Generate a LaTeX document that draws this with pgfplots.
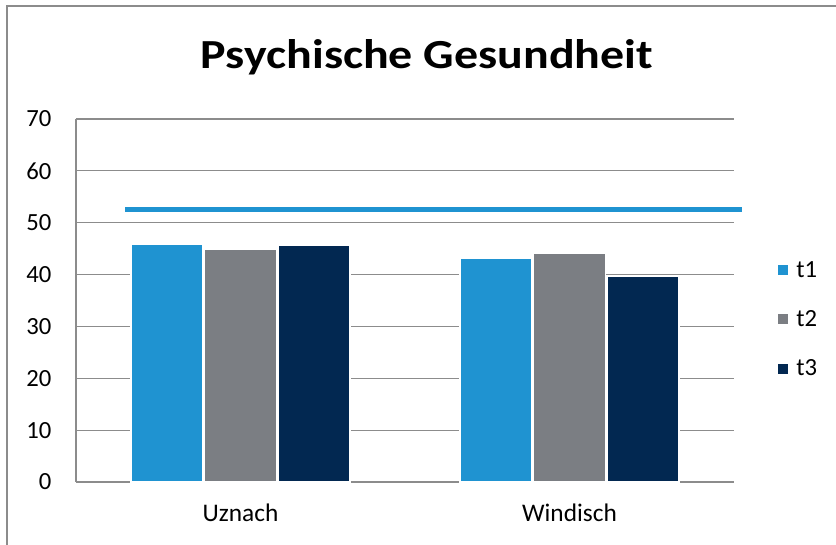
\documentclass[border=0pt]{standalone}
\usepackage{pgfplots}
\pgfplotsset{compat=1.18}
\usepackage{fontspec}
\setmainfont{Carlito}
\newfontfamily\titlefont[FakeStretch=1.16]{Carlito}
\definecolor{tone}{HTML}{1F93D1}
\definecolor{ttwo}{HTML}{7B7E83}
\definecolor{tthree}{HTML}{022851}
\definecolor{frame}{HTML}{8C8C8C}

\begin{document}
\begin{tikzpicture}[x=0.75pt,y=0.75pt]
  \useasboundingbox (0,0) rectangle (836,545);
  % outer chart frame (cut off on the right and bottom)
  \draw[frame, line width=1.5pt] (7,0) -- (7,538.5) -- (836,538.5);
  \node[anchor=base, font=\titlefont\fontsize{31}{35}\selectfont\bfseries] at (427,476) {Psychische Gesundheit};

  \begin{axis}[
    at={(57pt,47.25pt)}, anchor=south west,
    scale only axis,
    width=493.5pt, height=272.25pt,
    xmin=-0.5, xmax=1.5,
    ymin=0, ymax=70,
    ytick={0,10,...,70},
    xtick={0,1},
    xticklabels={Uznach,Windisch},
    major tick length=0pt,
    axis x line*=bottom,
    axis y line*=left,
    axis line style={frame, line width=0.9pt, -},
    ymajorgrids,
    grid style={frame, line width=0.9pt},
    yticklabel style={font=\fontsize{18.5}{21}\selectfont, xshift=-15pt},
    xticklabel style={font=\fontsize{19}{22}\selectfont, yshift=-13pt},
    /pgf/number format/assume math mode=true,
    clip=false,
    legend style={
      at={(1.058,0.4477)}, anchor=west,
      draw=none, fill=none,
      font=\fontsize{18.5}{21}\selectfont,
      row sep=19.5pt,
      legend cell align=left,
      /tikz/every even column/.append style={column sep=0pt},
    },
    legend image code/.code={
      \fill[#1] (0pt,-4.3pt) rectangle (8.6pt,4.3pt);
      \path (12pt,0pt);
    },
  ]
    \addplot[ybar, bar width=0.219, bar shift=-0.2234, fill=tone, draw=white, line width=1pt]
      coordinates {(0,45.9) (1,43.2)};
    \addlegendentry{t1}
    \addplot[ybar, bar width=0.219, bar shift=0, fill=ttwo, draw=white, line width=1pt]
      coordinates {(0,44.9) (1,44.0)};
    \addlegendentry{t2}
    \addplot[ybar, bar width=0.219, bar shift=0.2234, fill=tthree, draw=white, line width=1pt]
      coordinates {(0,45.7) (1,39.7)};
    \addlegendentry{t3}
    % reference line
    \addplot[tone, line width=3.75pt, forget plot] coordinates {(-0.351,52.6) (1.524,52.6)};
  \end{axis}
\end{tikzpicture}
\end{document}
